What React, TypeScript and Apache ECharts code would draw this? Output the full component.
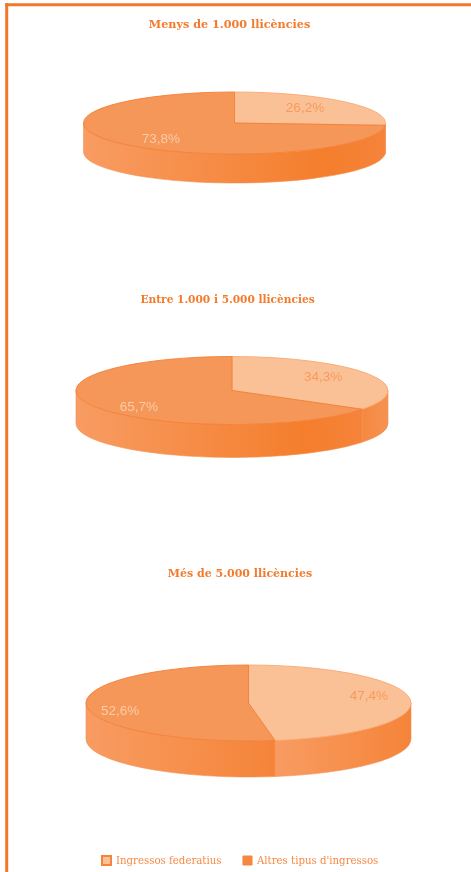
import React, { useEffect, useRef } from "react";
import * as echarts from "echarts";

const titles = ["Menys de 1.000 llicències", "Entre 1.000 i 5.000 llicències", "Més de 5.000 llicències"];
const seriesNames = ["Ingressos federatius", "Altres tipus d'ingressos"];
const federatius = [26.2, 34.3, 47.4];
const altres = [73.8, 65.7, 52.6];

// Layout of each drawn pie (pixels), separate from the data
const pieCx = [234.5, 232, 248.5];
const pieCy = [123, 390.5, 703];
const pieRx = [151, 156, 162.5];
const pieRy = [31, 34, 38];
const pieDepth = [29, 33, 36];
const titleX = [229.5, 227.5, 240];
const titleY = [18, 293, 568];
const titleSize = [11.2, 10.6, 11];
const labelRadius = 0.7;
const labelNudge = [
  [[-7, -1], [-5, -3], [7, -5]],
  [[4, 1], [3, 5], [-15, 5]],
];

const ORANGE = "#F47F35";
const TOP_FILL = ["#FBC196", "#F6975A"];
const LABEL_COLOR = ["#F79A5C", "#FBCBA8"];
const FONT_SERIF = "DejaVu Serif";

const fmt = (v: number) => v.toFixed(1).replace(".", ",") + "%";

function wallStops(sliceIndex: number, p: number) {
  if (sliceIndex === 1 && p < 2) {
    return [{ offset: 0, color: "#F89C62" }, { offset: 0.8, color: "#F47E2C" }, { offset: 1, color: "#F5833A" }];
  }
  if (sliceIndex === 0 && p === 1) {
    return [{ offset: 0, color: "#F58840" }, { offset: 1, color: "#F69352" }];
  }
  return [{ offset: 0, color: "#F89C62" }, { offset: 1, color: "#F58439" }];
}

function makeRenderItem(sliceIndex: number) {
  return (_params: any, api: any) => {
    const p = api.value(0) as number;
    const value = api.value(1) as number;
    const cx = pieCx[p], cy = pieCy[p], rx = pieRx[p], ry = pieRy[p], depth = pieDepth[p];
    const startPct = sliceIndex === 0 ? 0 : federatius[p];
    const a0 = (startPct / 100) * Math.PI * 2;
    const a1 = a0 + (value / 100) * Math.PI * 2;
    const pt = (a: number, dy = 0) => [cx + rx * Math.sin(a), cy - ry * Math.cos(a) + dy];
    const children: any[] = [];

    // Side wall: only the part of the rim on the near half of the ellipse
    const w0 = Math.max(a0, Math.PI / 2);
    const w1 = Math.min(a1, (Math.PI * 3) / 2);
    if (w1 > w0) {
      const s = pt(w0), e = pt(w1), e2 = pt(w1, depth), s2 = pt(w0, depth);
      children.push({
        type: "path",
        shape: {
          pathData: `M${s[0]} ${s[1]}A${rx} ${ry} 0 0 1 ${e[0]} ${e[1]}L${e2[0]} ${e2[1]}A${rx} ${ry} 0 0 0 ${s2[0]} ${s2[1]}Z`,
        },
        style: {
          fill: { type: "linear", x: 0, y: 0, x2: 1, y2: 0, colorStops: wallStops(sliceIndex, p) },
          stroke: "#F58F4E",
          lineWidth: 0.6,
        },
      });
    }

    // Top face
    const s = pt(a0), e = pt(a1);
    const large = a1 - a0 > Math.PI ? 1 : 0;
    children.push({
      type: "path",
      shape: { pathData: `M${cx} ${cy}L${s[0]} ${s[1]}A${rx} ${ry} 0 ${large} 1 ${e[0]} ${e[1]}Z` },
      style: { fill: TOP_FILL[sliceIndex], stroke: sliceIndex === 0 ? "#F9A873" : ORANGE, lineWidth: 0.9 },
    });

    // Percentage label
    const mid = (a0 + a1) / 2;
    const nudge = labelNudge[sliceIndex][p];
    children.push({
      type: "text",
      z2: 10,
      style: {
        x: cx + rx * labelRadius * Math.sin(mid) + nudge[0],
        y: cy - ry * labelRadius * Math.cos(mid) + nudge[1],
        text: fmt(value),
        fill: LABEL_COLOR[sliceIndex],
        font: '13.5px "Liberation Sans"',
        align: "center",
        verticalAlign: "middle",
      },
    });
    return { type: "group", children };
  };
}

export default function App() {
  const ref = useRef<HTMLDivElement>(null);
  useEffect(() => {
    document.body.style.margin = "0";
    const chart = echarts.init(ref.current!, null, { renderer: "svg" });
    chart.setOption({
      animation: false,
      backgroundColor: "#FFFFFF",
      title: titles.map((t, i) => ({
        text: t,
        left: titleX[i],
        top: titleY[i],
        textAlign: "center",
        padding: 0,
        textStyle: { fontFamily: FONT_SERIF, fontWeight: "bold", fontSize: titleSize[i], color: "#F47A2C" },
      })),
      legend: {
        left: 101,
        top: 855,
        padding: 0,
        itemWidth: 9,
        itemHeight: 9,
        itemGap: 21,
        selectedMode: false,
        textStyle: { fontFamily: FONT_SERIF, fontSize: 10.2, color: "#F58A45" },
        data: [
          { name: seriesNames[0], icon: "rect", itemStyle: { color: "#FBC196", borderColor: "#F5853D", borderWidth: 2 } },
          { name: seriesNames[1], icon: "rect", itemStyle: { color: "#F5893F", borderColor: "#F5853D", borderWidth: 1 } },
        ],
      },
      graphic: [
        { type: "rect", shape: { x: 5.2, y: 3.2, width: 3, height: 869 }, style: { fill: "#F4762A" } },
        { type: "rect", shape: { x: 5.2, y: 3.2, width: 466, height: 3 }, style: { fill: "#F4762A" } },
      ],
      series: [
        {
          type: "custom", name: seriesNames[0], coordinateSystem: "none", silent: true,
          itemStyle: { color: "#FBC196" },
          data: federatius.map((v, i) => [i, v]),
          renderItem: makeRenderItem(0),
        },
        {
          type: "custom", name: seriesNames[1], coordinateSystem: "none", silent: true,
          itemStyle: { color: "#F5893F" },
          data: altres.map((v, i) => [i, v]),
          renderItem: makeRenderItem(1),
        },
      ],
    });
    return () => chart.dispose();
  }, []);
  return (
    <div
      ref={ref}
      style={{ position: "absolute", left: 0, top: 0, width: 471, height: 872, filter: "blur(0.5px)" }}
    />
  );
}
